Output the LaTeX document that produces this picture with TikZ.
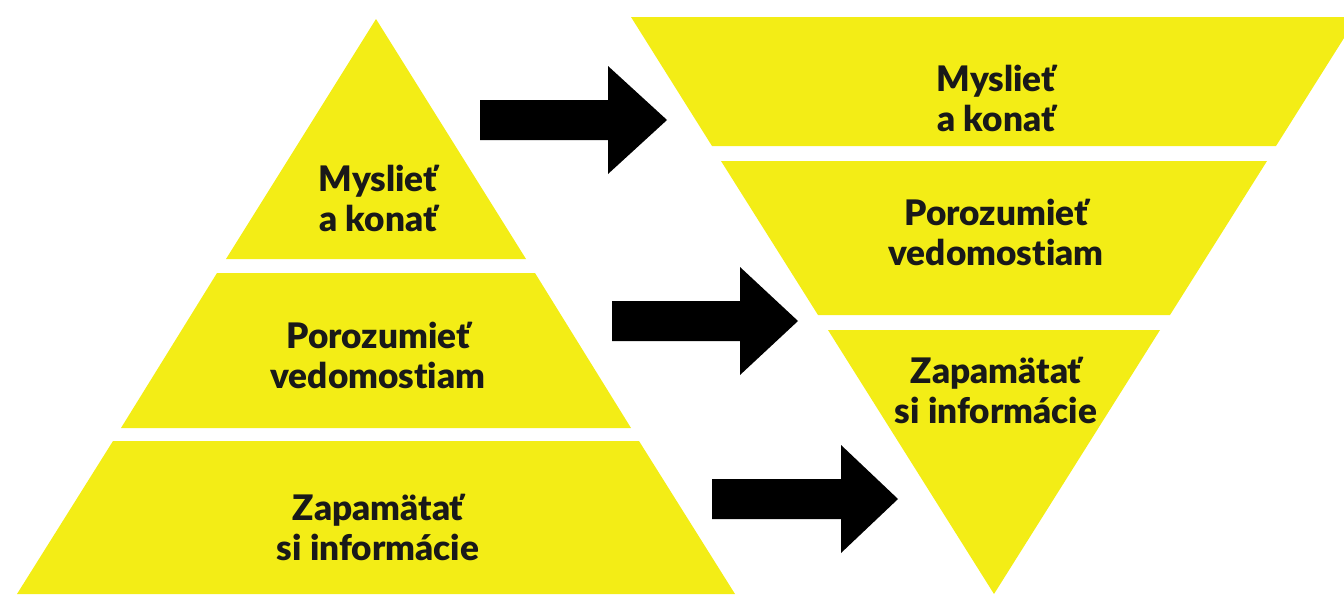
\documentclass[tikz,border=0pt]{standalone}
\usepackage{fontspec}
\setmainfont{Lato}[BoldFont={Lato Black}, Ligatures=NoCommon]
\usepackage{xcolor}
\definecolor{pyryellow}{RGB}{243,237,22}
\tikzset{
  layer/.style={fill=pyryellow},
  blockarrow/.style={fill=black},
  layertext/.style={align=center, font=\bfseries\fontsize{10}{11.4}\selectfont, text=black!90}
}

\begin{document}
\begin{tikzpicture}[x=0.1mm, y=-0.1mm]
	\useasboundingbox (0,0) rectangle (1344,594);
	% left pyramid
	\fill[layer] (376,19) -- (526,259) -- (226,259) -- cycle;
	\fill[layer] (217,273) -- (535,273) -- (631,428) -- (121,428) -- cycle;
	\fill[layer] (113,441) -- (639,441) -- (735,594) -- (17,594) -- cycle;
	\node[layertext] (lthink) at (378,198) {Myslieť\\a konať};
	\node[layertext] (lunder) at (378,355) {Porozumieť\\vedomostiam};
	\node[layertext] (lremem) at (378,527) {Zapamätať\\si informácie};
	% inverted pyramid
	\fill[layer] (631,17) -- (1344,17) -- (1344,38) -- (1276,146) -- (712,146) -- cycle;
	\fill[layer] (721,161) -- (1267,161) -- (1170,315) -- (818,315) -- cycle;
	\fill[layer] (828,330) -- (1160,330) -- (994,594) -- cycle;
	\node[layertext] (rthink) at (996,98) {Myslieť\\a konať};
	\node[layertext] (runder) at (996,232) {Porozumieť\\vedomostiam};
	\node[layertext] (rremem) at (996,390) {Zapamätať\\si informácie};
	% arrows
	\coordinate (a1) at (480,120);
	\coordinate (a2) at (612,321);
	\coordinate (a3) at (712,499);
	\fill[blockarrow] (a1) ++(0,-20) -- ++(128,0) -- ++(0,-34) -- ++(59,54) -- ++(-59,54) -- ++(0,-34) -- ++(-128,0) -- cycle;
	\fill[blockarrow] (a2) ++(0,-20) -- ++(128,0) -- ++(0,-34) -- ++(58,54) -- ++(-58,54) -- ++(0,-34) -- ++(-128,0) -- cycle;
	\fill[blockarrow] (a3) ++(0,-20) -- ++(129,0) -- ++(0,-34) -- ++(57,54) -- ++(-57,54) -- ++(0,-34) -- ++(-129,0) -- cycle;
\end{tikzpicture}
\end{document}
